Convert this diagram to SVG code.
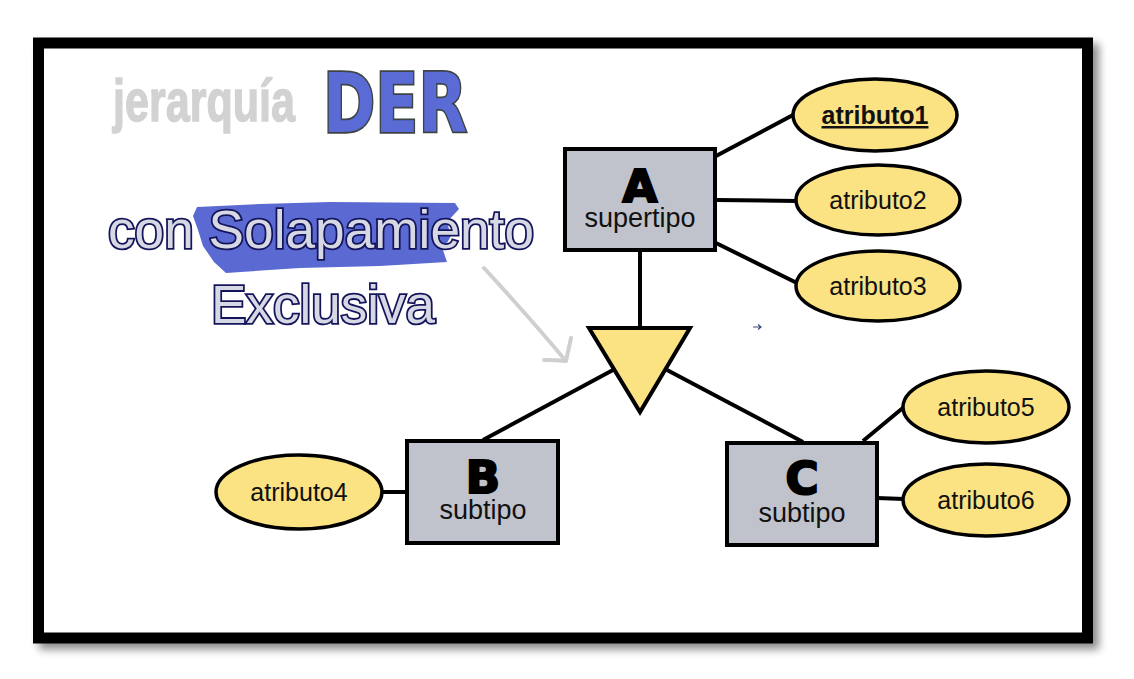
<svg xmlns="http://www.w3.org/2000/svg" width="1134" height="679" viewBox="0 0 1134 679">
<defs>
<filter id="sh" x="-5%" y="-5%" width="110%" height="110%">
<feGaussianBlur in="SourceAlpha" stdDeviation="4"/>
<feOffset dx="6" dy="6"/>
<feComponentTransfer><feFuncA type="linear" slope="0.45"/></feComponentTransfer>
<feMerge><feMergeNode/><feMergeNode in="SourceGraphic"/></feMerge>
</filter>
<style>
.ent{fill:#C0C3CC;stroke:#000;stroke-width:4}
.att{fill:#FBE283;stroke:#000;stroke-width:3.5}
.ln{stroke:#000;stroke-width:4;fill:none}
.big{font-family:"DejaVu Sans","Liberation Sans",sans-serif;font-weight:bold;font-size:45px;fill:#000;stroke:#000;stroke-width:2.2;text-anchor:middle}
.sub{font-family:"Liberation Sans",Arial,sans-serif;font-size:27px;fill:#111;text-anchor:middle}
.at{font-family:"Liberation Sans",Arial,sans-serif;font-size:25px;fill:#111;text-anchor:middle}
.hd{font-family:"Liberation Sans",Arial,sans-serif;font-size:54px;fill:#D6D8E4;stroke:#14145A;stroke-width:3.6;paint-order:stroke;text-anchor:middle}
</style>
</defs>
<rect x="0" y="0" width="1134" height="679" fill="#fff"/>
<rect id="frame" x="38.5" y="43" width="1049" height="595" fill="#fff" stroke="#000" stroke-width="11" filter="url(#sh)"/>

<g id="title">
<text x="204" y="121" font-family="Liberation Sans,Arial,sans-serif" font-weight="bold" font-size="60" fill="#D2D2D2" stroke="#D2D2D2" stroke-width="1.5" text-anchor="middle" textLength="182" lengthAdjust="spacingAndGlyphs">jerarquía</text>
<text x="395" y="132" font-family="DejaVu Sans,Liberation Sans,sans-serif" font-weight="bold" font-size="82" fill="#5A6BD6" stroke="#3E4446" stroke-width="3.5" paint-order="stroke" text-anchor="middle" textLength="144" lengthAdjust="spacingAndGlyphs">DER</text>
</g>

<g id="subtitle">
<path d="M197,207 L260,204 L330,202 L455,203 L459,209 L447,222 L451,236 L443,250 L447,262 L380,266 L300,268 L226,273 L214,262 L203,246 L198,230 L193,216 Z" fill="#5B6AD2"/>
<text class="hd" x="321" y="248" textLength="426" lengthAdjust="spacingAndGlyphs">con Solapamiento</text>
<text class="hd" x="323" y="323" textLength="224" lengthAdjust="spacingAndGlyphs">Exclusiva</text>
<path d="M484,268 Q530,318 566,361 M571,338 Q568,352 566,361 Q556,360 544,360" fill="none" stroke="#CFCFCF" stroke-width="4" stroke-linecap="round" stroke-linejoin="round"/>
<path d="M753,327 L761,327 M758,324.5 L761,327 L758,329.5" fill="none" stroke="#3A4A7A" stroke-width="1.2"/>
</g>

<g id="connectors">
<line class="ln" x1="640" y1="251" x2="640" y2="329"/>
<line class="ln" x1="613" y1="370" x2="483" y2="440"/>
<line class="ln" x1="667" y1="370" x2="803" y2="442"/>
<line class="ln" x1="716" y1="156" x2="793" y2="115"/>
<line class="ln" x1="716" y1="200" x2="797" y2="201"/>
<line class="ln" x1="716" y1="243" x2="801" y2="285"/>
<line class="ln" x1="382" y1="492" x2="406" y2="492"/>
<line class="ln" x1="863" y1="441" x2="904" y2="407"/>
<line class="ln" x1="877" y1="498" x2="904" y2="499"/>
</g>

<g id="A">
<rect class="ent" x="565" y="149" width="150" height="101"/>
<text class="big" x="640" y="202">A</text>
<text class="sub" x="640" y="227">supertipo</text>
</g>

<g id="isa">
<polygon points="589,328 690,328 640,412" fill="#FBE283" stroke="#000" stroke-width="4" stroke-linejoin="miter"/>
</g>

<g id="B">
<rect class="ent" x="407" y="441" width="151" height="102"/>
<text class="big" x="483" y="493">B</text>
<text class="sub" x="483" y="519">subtipo</text>
</g>

<g id="C">
<rect class="ent" x="727" y="443" width="150" height="102"/>
<text class="big" x="802" y="494">C</text>
<text class="sub" x="802" y="522">subtipo</text>
</g>

<g id="atributo1">
<ellipse class="att" cx="875" cy="115" rx="82" ry="36"/>
<text class="at" x="875" y="124" font-weight="bold" text-decoration="underline">atributo1</text>
</g>
<g id="atributo2">
<ellipse class="att" cx="878" cy="200" rx="82" ry="35"/>
<text class="at" x="878" y="209">atributo2</text>
</g>
<g id="atributo3">
<ellipse class="att" cx="878" cy="286" rx="82" ry="35"/>
<text class="at" x="878" y="295">atributo3</text>
</g>
<g id="atributo4">
<ellipse class="att" cx="299" cy="492" rx="83" ry="37"/>
<text class="at" x="299" y="501">atributo4</text>
</g>
<g id="atributo5">
<ellipse class="att" cx="986" cy="407" rx="83" ry="36"/>
<text class="at" x="986" y="416">atributo5</text>
</g>
<g id="atributo6">
<ellipse class="att" cx="986" cy="500" rx="83" ry="36"/>
<text class="at" x="986" y="509">atributo6</text>
</g>
</svg>
